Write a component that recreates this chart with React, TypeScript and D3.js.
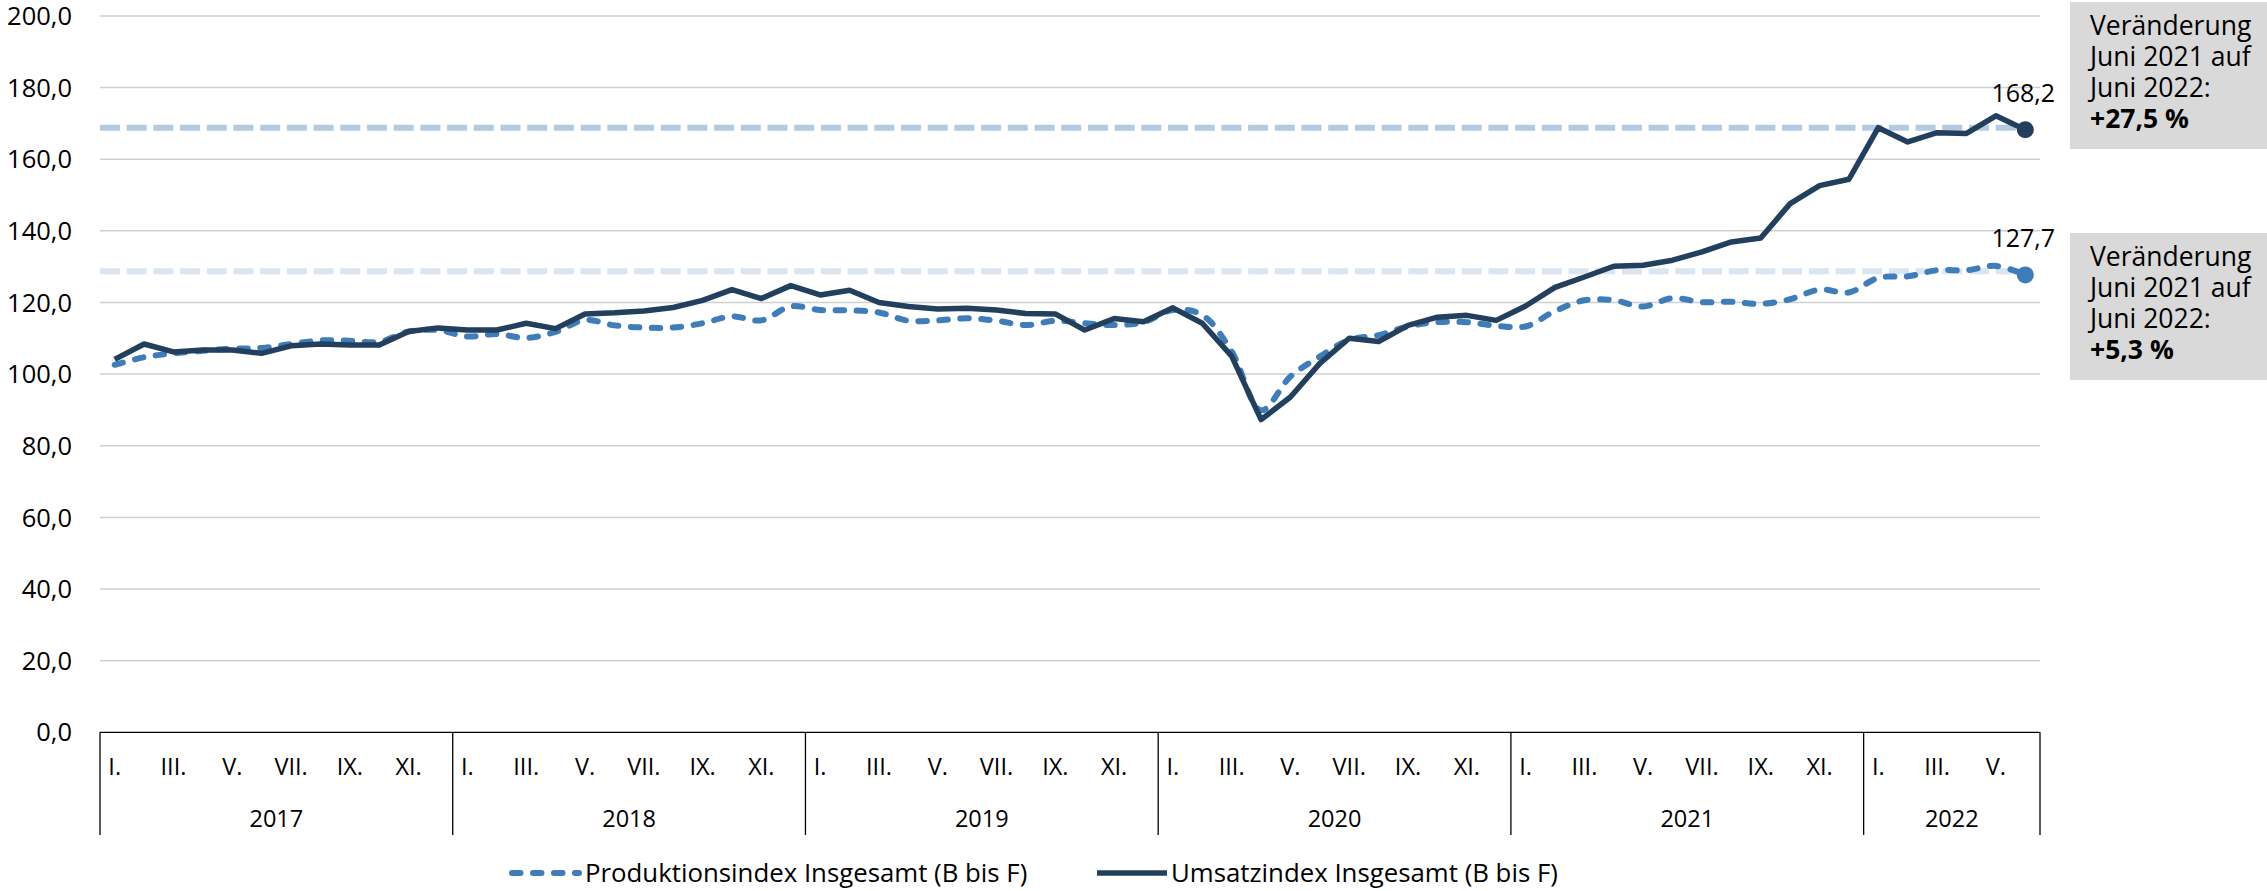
import React, { useEffect } from 'react';
import * as d3 from 'd3';

// ---------- data ----------
const years = ['2017', '2018', '2019', '2020', '2021', '2022'];
const monthsPerYear = [12, 12, 12, 12, 12, 6];
const romanMonths = ['I.', 'II.', 'III.', 'IV.', 'V.', 'VI.', 'VII.', 'VIII.', 'IX.', 'X.', 'XI.', 'XII.'];
const yTicks = [0, 20, 40, 60, 80, 100, 120, 140, 160, 180, 200];

// Produktionsindex Insgesamt (B bis F), Jan 2017 – Jun 2022
const produktion = [
  102.6, 104.7, 105.8, 106.5, 107.1, 107.3, 108.4, 109.4, 109.3, 109.0, 111.9, 112.3,
  110.5, 111.2, 110.1, 111.8, 115.1, 113.6, 113.0, 113.0, 114.2, 116.1, 115.0, 118.9,
  117.9, 117.8, 117.2, 114.9, 115.0, 115.6, 114.9, 113.7, 114.9, 114.2, 113.7, 114.5,
  117.9, 116.5, 106.3, 89.9, 99.3, 104.9, 109.5, 110.9, 113.3, 114.5, 114.5, 113.5,
  113.3, 117.6, 120.6, 120.6, 118.9, 121.2, 120.1, 120.2, 119.6, 120.9, 123.6, 122.8,
  126.9, 127.3, 129.0, 129.0, 130.2, 127.7,
];

// Umsatzindex Insgesamt (B bis F), Jan 2017 – Jun 2022
const umsatz = [
  104.1, 108.4, 106.2, 106.7, 106.7, 105.8, 107.9, 108.4, 108.1, 108.1, 111.9, 112.9,
  112.3, 112.3, 114.2, 112.7, 116.8, 117.1, 117.6, 118.6, 120.6, 123.6, 121.1, 124.7,
  122.1, 123.4, 120.0, 118.9, 118.2, 118.4, 117.9, 116.9, 116.8, 112.3, 115.5, 114.6,
  118.5, 114.2, 105.0, 87.3, 93.6, 103.0, 110.0, 109.1, 113.6, 115.9, 116.4, 115.0,
  119.0, 124.2, 127.1, 130.1, 130.4, 131.8, 134.1, 136.9, 138.0, 147.6, 152.6, 154.4,
  168.8, 164.8, 167.4, 167.2, 172.1, 168.2,
];

const refLevels = [168.8, 128.7];
const seriesNames = ['Produktionsindex Insgesamt (B bis F)', 'Umsatzindex Insgesamt (B bis F)'];
const boxUmsatz = ['Veränderung', 'Juni 2021 auf', 'Juni 2022:', '+27,5 %'];
const boxProduktion = ['Veränderung', 'Juni 2021 auf', 'Juni 2022:', '+5,3 %'];

// ---------- styling ----------
const W = 2267;
const H = 891;
const FONT = "'Open Sans', 'Liberation Sans', sans-serif";
const C_SOLID = '#223f5e';
const C_DASH = '#3f7dba';
const C_REF1 = '#b3cae3';
const C_REF2 = '#dbe5f1';
const C_GRID = '#cfcfcf';

const de = d3.formatLocale({ decimal: ',', thousands: '.', grouping: [3], currency: ['', ' €'] });
const fmt = de.format('.1f');

export default function App() {
  useEffect(() => {
    document.body.style.margin = '0';
  }, []);

  const left = 100;
  const right = 2040;
  const nMonths = umsatz.length;
  const idx = d3.range(nMonths);

  const x = d3.scaleBand<number>().domain(idx).range([left, right]).paddingInner(0).paddingOuter(0);
  const bw = x.bandwidth();
  const cx = (i: number) => (x(i) as number) + bw / 2;
  const y = d3.scaleLinear().domain([0, 200]).range([732.3, 15.9]);

  const solidLine = d3.line<number>().x((_, i) => cx(i)).y((d) => y(d));
  const dashLine = d3
    .line<number>()
    .x((_, i) => cx(i))
    .y((d) => y(d))
    .curve(d3.curveCatmullRom.alpha(0.5));

  const yearStarts: number[] = [];
  let acc = 0;
  monthsPerYear.forEach((m) => {
    yearStarts.push(acc);
    acc += m;
  });
  const boundaryX = (k: number) => (k >= nMonths ? right : (x(k) as number));

  const axisTop = y(0);
  const lastI = nMonths - 1;

  return (
    <svg width={W} height={H} style={{ position: 'absolute', left: 0, top: 0, background: '#fff' }} fontFamily={FONT}>
      {yTicks.filter((t) => t > 0).map((t) => (
        <line key={'g' + t} x1={left} x2={right} y1={y(t)} y2={y(t)} stroke={C_GRID} strokeWidth={1.5} />
      ))}
      {yTicks.map((t) => (
        <text key={'yl' + t} x={72} y={y(t)} dy="0.36em" textAnchor="end" fontSize={25.5} fill="#000">
          {fmt(t)}
        </text>
      ))}

      {refLevels.map((v, k) => (
        <line
          key={'ref' + k}
          x1={left}
          x2={cx(lastI)}
          y1={y(v)}
          y2={y(v)}
          stroke={k === 0 ? C_REF1 : C_REF2}
          strokeWidth={6}
          strokeDasharray="20 6.7"
        />
      ))}

      <path d={dashLine(produktion) || ''} fill="none" stroke={C_DASH} strokeWidth={6} strokeDasharray="8.5 12.5" strokeLinecap="round" />
      <path d={solidLine(umsatz) || ''} fill="none" stroke={C_SOLID} strokeWidth={5.5} strokeLinejoin="round" />

      <circle cx={cx(lastI)} cy={y(umsatz[lastI])} r={8.5} fill={C_SOLID} />
      <circle cx={cx(lastI)} cy={y(produktion[lastI])} r={8.5} fill={C_DASH} />
      <text x={cx(lastI) - 2} y={y(umsatz[lastI]) - 28} textAnchor="middle" fontSize={25} fill="#000">
        {fmt(umsatz[lastI])}
      </text>
      <text x={cx(lastI) - 2} y={y(produktion[lastI]) - 28} textAnchor="middle" fontSize={25} fill="#000">
        {fmt(produktion[lastI])}
      </text>

      <line x1={left} x2={right} y1={axisTop} y2={axisTop} stroke="#000" strokeWidth={1.3} />
      {yearStarts.map((s, k) => (
        <line key={'yb' + k} x1={boundaryX(s)} x2={boundaryX(s)} y1={axisTop} y2={835} stroke="#000" strokeWidth={1.3} />
      ))}
      <line x1={right} x2={right} y1={axisTop} y2={835} stroke="#000" strokeWidth={1.3} />
      {years.map((yr, k) => {
        const s = yearStarts[k];
        const e = s + monthsPerYear[k];
        const labels = d3.range(monthsPerYear[k]).filter((m) => m % 2 === 0);
        return (
          <g key={'yr' + yr}>
            {labels.map((m) => (
              <text key={m} x={cx(s + m)} y={775} textAnchor="middle" fontSize={23.5} fill="#000">
                {romanMonths[m]}
              </text>
            ))}
            <text x={(boundaryX(s) + boundaryX(e)) / 2} y={827} textAnchor="middle" fontSize={23.5} fill="#000">
              {yr}
            </text>
          </g>
        );
      })}

      <line x1={512} x2={579} y1={873} y2={873} stroke={C_DASH} strokeWidth={6} strokeDasharray="8.5 12.5" strokeLinecap="round" />
      <text x={585} y={873} dy="0.36em" fontSize={25.8} fill="#000">
        {seriesNames[0]}
      </text>
      <line x1={1097} x2={1167} y1={873} y2={873} stroke={C_SOLID} strokeWidth={5.5} />
      <text x={1171} y={873} dy="0.36em" fontSize={25.8} fill="#000">
        {seriesNames[1]}
      </text>

      {[
        { lines: boxUmsatz, top: 2, h: 147 },
        { lines: boxProduktion, top: 233, h: 147 },
      ].map((b, k) => (
        <g key={'box' + k}>
          <rect x={2070} y={b.top} width={W - 2070} height={b.h} fill="#d9d9d9" />
          {b.lines.map((t, j) => (
            <text
              key={j}
              x={2090}
              y={b.top + 33 + j * 31}
              fontSize={26.5}
              fontWeight={j === 3 ? 700 : 400}
              fill="#000"
            >
              {t}
            </text>
          ))}
        </g>
      ))}
    </svg>
  );
}
